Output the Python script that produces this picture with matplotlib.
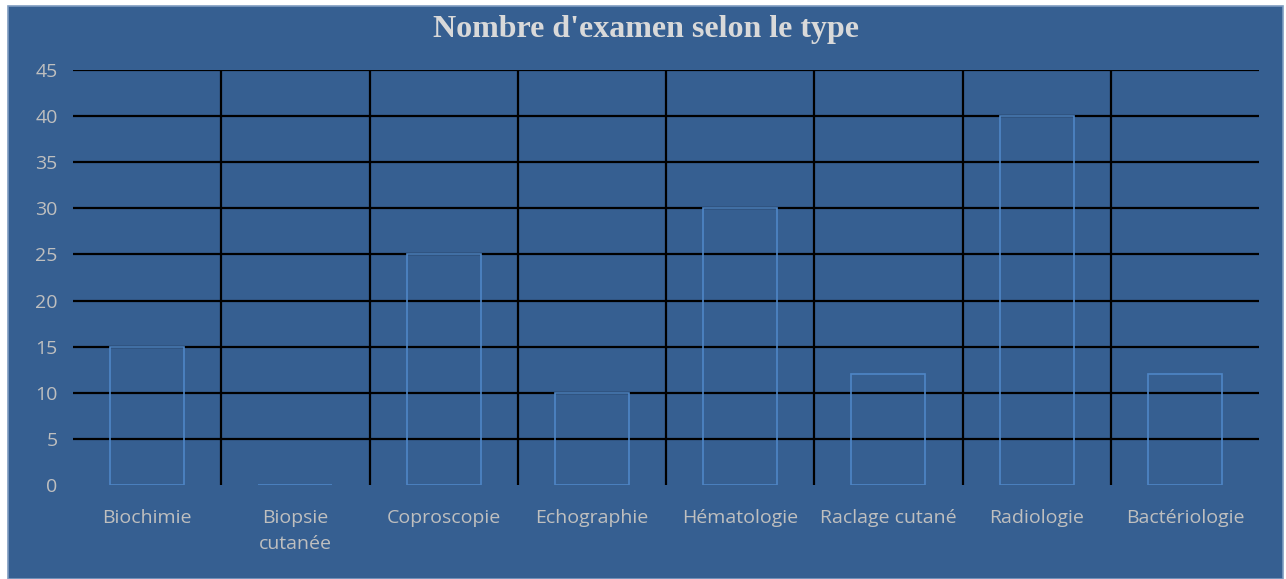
import matplotlib.pyplot as plt
from matplotlib.patches import Rectangle
import numpy as np

categories = ["Biochimie", "Biopsie\ncutanée", "Coproscopie", "Echographie",
              "Hématologie", "Raclage cutané", "Radiologie", "Bactériologie"]
values = [15, 0, 25, 10, 30, 12, 40, 12]
yticks = [0, 5, 10, 15, 20, 25, 30, 35, 40, 45]

bg = '#365F91'
text_col = '#BFBFBF'

fig = plt.figure(figsize=(12.86, 5.79), dpi=100, facecolor='white')
W, H = 1286, 579

# chart area frame
fig.patches.append(Rectangle((8 / W, 0), (1283 - 8) / W, (579 - 6) / H,
                             transform=fig.transFigure, facecolor=bg,
                             edgecolor='#7F9CC0', linewidth=1.2, zorder=-10))

ax = fig.add_axes([73 / W, 94 / H, (1259 - 73) / W, (485 - 70) / H])
ax.set_facecolor('none')

x = np.arange(len(categories))
ax.bar(x, values, width=0.5, facecolor='none', edgecolor='#4F86C6',
       linewidth=1.2, zorder=3)

ax.set_xlim(-0.5, len(categories) - 0.5)
ax.set_ylim(0, 45)
ax.set_yticks(yticks)
ax.set_xticks(x)
ax.set_xticklabels(categories, fontsize=14, color=text_col, family='Open Sans',
                   linespacing=1.6)

# gridlines
for y in yticks[1:]:
    ax.axhline(y, color='black', linewidth=1.6, zorder=2)
for xm in x[:-1] + 0.5:
    ax.axvline(xm, color='black', linewidth=1.6, zorder=2)

for lab in ax.get_yticklabels():
    lab.set_color(text_col)
    lab.set_fontsize(14)
    lab.set_family('Open Sans')

ax.tick_params(axis='both', which='both', length=0)
ax.tick_params(axis='x', pad=17)
ax.tick_params(axis='y', pad=11)
for s in ax.spines.values():
    s.set_visible(False)

fig.text(646 / W, 1 - 29 / H, "Nombre d'examen selon le type", ha='center',
         va='center', fontsize=23, fontweight='bold', color='#D9D9D9',
         family='Liberation Serif')

fig.savefig('out.png', dpi=100, facecolor='white')
